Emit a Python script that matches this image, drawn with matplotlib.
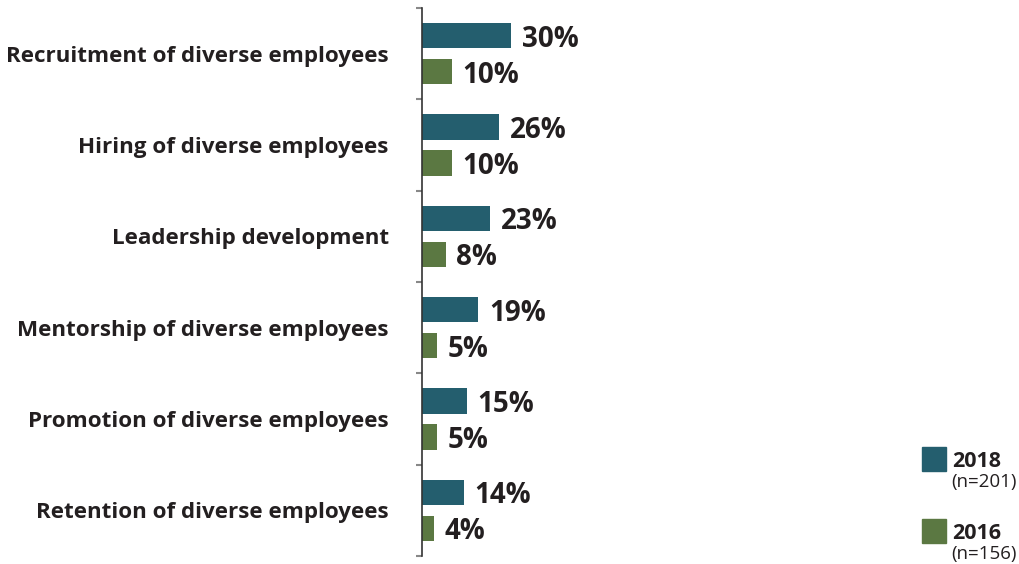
import matplotlib
matplotlib.use("Agg")
import matplotlib.pyplot as plt
from matplotlib.patches import Rectangle
import numpy as np

plt.rcParams['font.family'] = ['Open Sans', 'DejaVu Sans']

categories = [
    "Recruitment of diverse employees",
    "Hiring of diverse employees",
    "Leadership development",
    "Mentorship of diverse employees",
    "Promotion of diverse employees",
    "Retention of diverse employees",
]
values_2018 = [30, 26, 23, 19, 15, 14]
values_2016 = [10, 10, 8, 5, 5, 4]
series_labels = ["2018", "2016"]
series_n = ["(n=201)", "(n=156)"]

color_2018 = "#245e6e"
color_2016 = "#5b7842"
text_color = "#231f20"

W, H = 1020, 564
fig = plt.figure(figsize=(W / 100, H / 100), dpi=100)
ax = fig.add_axes([422 / W, 1 - 556 / H, 500 / W, 548 / H])

y = np.arange(len(categories))
bar_h = 0.274
off = 0.197
ax.barh(y - off, values_2018, height=bar_h, color=color_2018)
ax.barh(y + off, values_2016, height=bar_h, color=color_2016)

ax.set_xlim(0, 500 / 2.97)
ax.set_ylim(len(categories) - 0.5, -0.5)

for yi, v in zip(y - off, values_2018):
    ax.annotate(f"{v}%", (v, yi), xytext=(7.5, 0), textcoords="offset points",
                va="center_baseline", ha="left", fontsize=20, fontweight="bold",
                color=text_color)
for yi, v in zip(y + off, values_2016):
    ax.annotate(f"{v}%", (v, yi), xytext=(7.5, 0), textcoords="offset points",
                va="center_baseline", ha="left", fontsize=20, fontweight="bold",
                color=text_color)

for s in ["top", "right", "bottom"]:
    ax.spines[s].set_visible(False)
ax.spines["left"].set_color("#333333")
ax.spines["left"].set_linewidth(1.2)

ax.set_xticks([])
ax.set_yticks(np.arange(-0.5, len(categories), 1.0))
ax.set_yticklabels([])
ax.tick_params(axis="y", which="major", length=4, width=1.5, color="#888888")
ax.set_yticks(y, minor=True)
ax.set_yticklabels(categories, minor=True, fontsize=16.1, fontweight="bold", color=text_color)
ax.tick_params(axis="y", which="minor", length=0, pad=24)

# legend
for i, (lab, n, col) in enumerate(zip(series_labels, series_n, [color_2018, color_2016])):
    top = 447 + i * 72
    fig.add_artist(Rectangle((922 / W, 1 - (top + 24) / H), 24 / W, 24 / H,
                             transform=fig.transFigure, color=col))
    fig.text(952 / W, 1 - (top + 12) / H, lab, fontsize=15.5, fontweight="bold",
             color=text_color, va="center_baseline", ha="left")
    fig.text(951 / W, 1 - (top + 33) / H, n, fontsize=13.5, color=text_color,
             va="center_baseline", ha="left")

fig.savefig("out.png", dpi=100)
